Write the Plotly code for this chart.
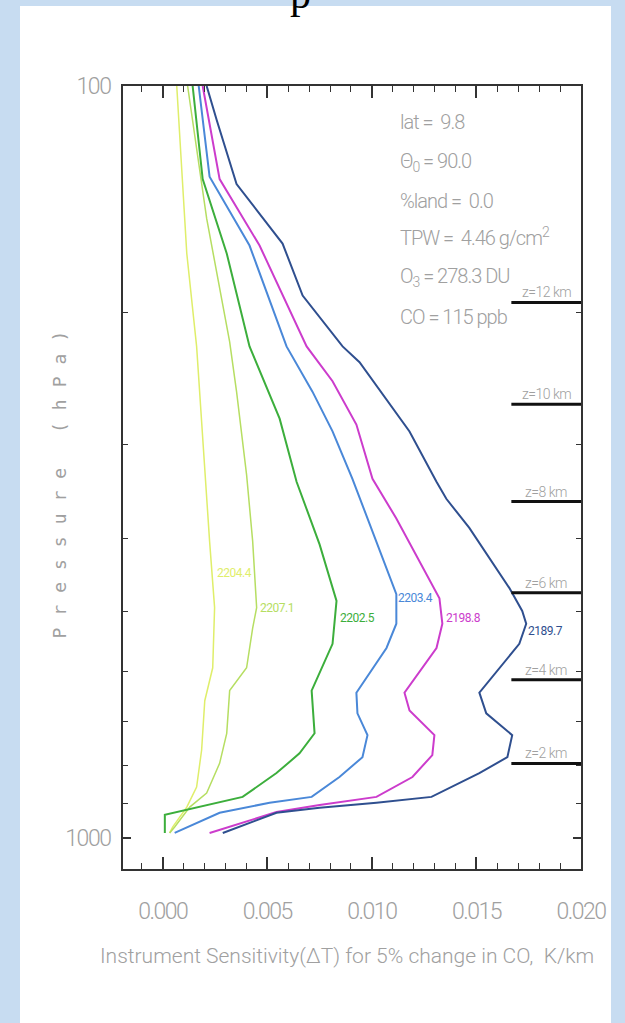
import numpy as np
import plotly.graph_objects as go

# ---------------- data ----------------
curve_labels = ["2204.4", "2207.1", "2202.5", "2203.4", "2198.8", "2189.7"]
curve_colors = ["#dfee6a", "#b6de62", "#3cae3c", "#4a88d8", "#cc3ccc", "#2f4f8f"]
curve_widths = [1.5, 1.5, 2, 2, 2, 2]

x_2204 = [0.00067, 0.00115, 0.00162, 0.00191, 0.00224, 0.00248, 0.00239, 0.00201, 0.00186, 0.00162, 0.00115, 0.00048, 0.00033]
p_2204 = [100, 167, 222, 297, 403, 494, 594, 657, 764, 856, 910, 967, 985]

x_2207 = [0.00119, 0.00210, 0.00320, 0.00353, 0.00401, 0.00430, 0.00449, 0.00430, 0.00401, 0.00320, 0.00306, 0.00272, 0.00210, 0.00129, 0.00057, 0.00033]
p_2207 = [100, 150, 219, 255, 329, 403, 494, 526, 594, 637, 726, 796, 872, 910, 967, 985]

x_2202 = [0.00143, 0.00191, 0.00306, 0.00415, 0.00559, 0.00640, 0.00750, 0.00831, 0.00812, 0.00712, 0.00726, 0.00654, 0.00544, 0.00382, 0.00010, 0.00010]
p_2202 = [100, 133, 167, 222, 277, 336, 407, 484, 552, 637, 726, 772, 820, 882, 932, 985]

x_2203 = [0.00172, 0.00224, 0.00415, 0.00592, 0.00716, 0.00812, 0.00907, 0.01022, 0.01117, 0.01117, 0.01070, 0.00926, 0.00931, 0.00979, 0.00955, 0.00845, 0.00712, 0.00511, 0.00272, 0.00057]
p_2203 = [100, 132, 163, 222, 255, 288, 333, 403, 474, 519, 559, 641, 683, 730, 781, 830, 882, 898, 926, 985]

x_2198 = [0.00191, 0.00272, 0.00463, 0.00688, 0.00812, 0.00926, 0.01003, 0.01117, 0.01323, 0.01337, 0.01309, 0.01156, 0.01180, 0.01299, 0.01289, 0.01194, 0.01022, 0.00750, 0.00544, 0.00224]
p_2198 = [100, 133, 163, 222, 247, 282, 333, 376, 480, 519, 559, 641, 677, 730, 776, 830, 882, 904, 924, 985]

x_2189 = [0.00210, 0.00258, 0.00353, 0.00573, 0.00669, 0.00860, 0.00941, 0.01180, 0.01309, 0.01356, 0.01466, 0.01657, 0.01719, 0.01738, 0.01705, 0.01514, 0.01547, 0.01671, 0.01648, 0.01514, 0.01285, 0.01022, 0.00750, 0.00544, 0.00287]
p_2189 = [100, 111, 135, 162, 190, 222, 233, 288, 336, 354, 387, 465, 499, 519, 552, 641, 683, 730, 781, 820, 882, 898, 912, 926, 985]

curves_x = [x_2204, x_2207, x_2202, x_2203, x_2198, x_2189]
curves_p = [p_2204, p_2207, p_2202, p_2203, p_2198, p_2189]

# curve label anchor points (x, pressure)
label_x = [0.00248, 0.00454, 0.00836, 0.01117, 0.01347, 0.01738]
label_p = [444, 494, 510, 480, 510, 530]

# altitude markers
z_km = [12, 10, 8, 6, 4, 2]
z_press = [194, 265, 357, 472, 616, 796]
z_x0 = 0.01667
z_x1 = 0.0200

# info box lines
info_lines = ["lat =  9.8", "Θ<sub>0</sub> = 90.0", "%land =  0.0",
              "TPW =  4.46 g/cm<sup>2</sup>", "O<sub>3</sub> = 278.3 DU", "CO = 115 ppb"]

x_ticks = [0.000, 0.005, 0.010, 0.015, 0.020]
x_ticktext = ["0.000", "0.005", "0.010", "0.015", "0.020"]
y_ticks = [100, 1000]
y_ticktext = ["100", "1000"]
y_minor = [200, 300, 400, 500, 600, 700, 800, 900]

# ---------------- figure ----------------
W, H = 625, 1023
L, R, T, B = 123, 44, 86, 154
pw, ph = W - L - R, H - T - B

def px2paper_x(px):
    return (px - L) / pw

def py2paper_y(py):
    return (H - B - py) / ph

FONT = "Roboto, Liberation Sans, sans-serif"
GRAY = "#a0a0a0"

def tight(s, sp=-1):
    return f"<span style='letter-spacing:{sp}px'>{s}</span>"

fig = go.Figure()

for xs, ps, c, w in zip(curves_x, curves_p, curve_colors, curve_widths):
    fig.add_trace(go.Scatter(x=xs, y=ps, mode="lines", line=dict(color=c, width=w),
                             showlegend=False, hoverinfo="skip"))

for p in z_press:
    fig.add_trace(go.Scatter(x=[z_x0, z_x1], y=[p, p], mode="lines",
                             line=dict(color="#111111", width=3),
                             showlegend=False, hoverinfo="skip"))

annotations = []
for z, p in zip(z_km, z_press):
    annotations.append(dict(x=0.01834, y=np.log10(p), xref="x", yref="y",
                            text=tight(f"z={z} km", -0.5), showarrow=False, yshift=10,
                            font=dict(family=FONT, size=14, color=GRAY, weight=300)))

for lab, lx, lp, c in zip(curve_labels, label_x, label_p, curve_colors):
    annotations.append(dict(x=lx, y=np.log10(lp), xref="x", yref="y", text=tight(lab, -0.5),
                            showarrow=False, xanchor="left",
                            font=dict(family=FONT, size=12, color=c)))

info_y = [122, 162, 201, 237, 277, 317]
for t, yy in zip(info_lines, info_y):
    annotations.append(dict(x=px2paper_x(398), y=py2paper_y(yy), xref="paper", yref="paper",
                            text=tight(t, -1), showarrow=False, xanchor="left", yanchor="middle",
                            font=dict(family=FONT, size=20, color=GRAY, weight=300)))

annotations.append(dict(x=px2paper_x(46), y=py2paper_y(479), xref="paper", yref="paper",
                        text="<span style='letter-spacing:12px'>Pressure (hPa)</span>",
                        textangle=-90, showarrow=False,
                        font=dict(family="DejaVu Sans Mono, monospace", size=18, color=GRAY)))

annotations.append(dict(x=px2paper_x(347), y=py2paper_y(970), xref="paper", yref="paper",
                        text="Instrument Sensitivity(ΔT) for 5% change in CO,  K/km",
                        showarrow=False,
                        font=dict(family=FONT, size=21, color=GRAY, weight=300)))

# partially visible title at the very top
annotations.append(dict(x=px2paper_x(300), y=py2paper_y(-31), xref="paper", yref="paper",
                        text="p", showarrow=False,
                        font=dict(family="Liberation Serif, Times New Roman, serif", size=42, color="#000000")))

shapes = [dict(type="rect", xref="paper", yref="paper",
               x0=px2paper_x(20), x1=px2paper_x(611), y0=py2paper_y(1030), y1=py2paper_y(6),
               fillcolor="#ffffff", line=dict(width=0), layer="below")]

fig.update_layout(
    width=W, height=H,
    margin=dict(l=L, r=R, t=T, b=B, autoexpand=False),
    paper_bgcolor="#c7dcf1",
    plot_bgcolor="#ffffff",
    annotations=annotations,
    shapes=shapes,
    showlegend=False,
)

fig.update_xaxes(
    range=[-0.0019, 0.0200],
    tickvals=x_ticks, ticktext=[tight(t, -1.5) for t in x_ticktext],
    ticks="inside", ticklen=12, tickwidth=1.5, tickcolor="#333333",
    minor=dict(dtick=0.001, tick0=0, ticks="inside", ticklen=6, tickwidth=1.2, tickcolor="#333333"),
    showline=True, linecolor="#333333", linewidth=2, mirror="ticks",
    showgrid=False, zeroline=False,
    tickfont=dict(family=FONT, size=23, color=GRAY, weight=300),
    ticklabelstandoff=20,
)

fig.update_yaxes(
    type="log", range=[np.log10(1100), 2],
    tickvals=y_ticks, ticktext=[tight(t, -1.5) for t in y_ticktext],
    ticks="inside", ticklen=8, tickwidth=1.5, tickcolor="#333333",
    minor=dict(tickvals=y_minor, ticks="inside", ticklen=5, tickwidth=1.2, tickcolor="#333333"),
    showline=True, linecolor="#333333", linewidth=2, mirror="ticks",
    showgrid=False, zeroline=False,
    tickfont=dict(family=FONT, size=23, color=GRAY, weight=300),
    ticklabelstandoff=6,
)

fig.write_html("out.html")
